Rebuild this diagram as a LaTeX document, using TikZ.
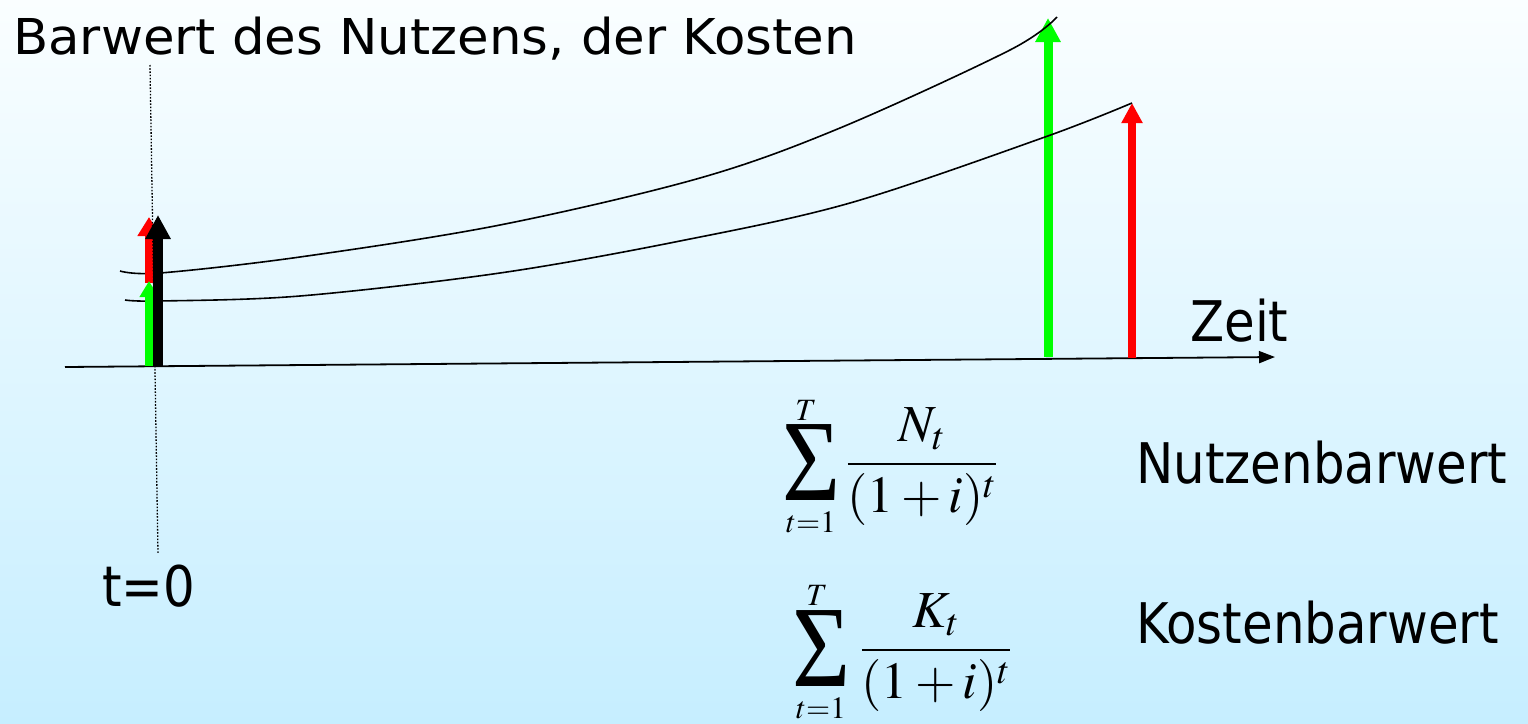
\documentclass[tikz,border=0pt]{standalone}
\usepackage{mathptmx}
\usepackage[no-math]{fontspec}
\setmainfont{DejaVu Sans}[FakeStretch=0.89]
\newfontfamily\titlefont{DejaVu Sans}[FakeStretch=1.04]
\newfontfamily\sigfont{Liberation Serif}[FakeStretch=0.86]
\usetikzlibrary{arrows.meta}
\definecolor{bgtop}{RGB}{250,254,255}
\definecolor{bgbot}{RGB}{198,238,255}
\definecolor{grn}{RGB}{0,255,0}
\definecolor{rd}{RGB}{255,0,0}
\begin{document}
\begin{tikzpicture}[x=1pt,y=-1pt,
  lbl/.style={inner sep=0pt, anchor=base west, font=\fontsize{56}{60}\selectfont},
  ttl/.style={inner sep=0pt, anchor=base west, font=\titlefont\fontsize{49.4}{54}\selectfont},
  curve/.style={line width=1.6pt},
  axisline/.style={line width=1.8pt, -{Triangle[length=16pt,width=12pt]}},
  guide/.style={line width=1.3pt, dash pattern=on 1.6pt off 1.6pt},
  sigma/.style={inner sep=0pt, anchor=base, font=\sigfont\fontsize{116}{116}\selectfont},
  lim/.style={inner sep=0pt, anchor=base, font=\fontsize{31}{31}\selectfont},
  frc/.style={inner sep=0pt, anchor=base, font=\fontsize{52}{52}\selectfont}]
\shade[top color=bgtop,bottom color=bgbot] (0,0) rectangle (1528,723);
\useasboundingbox (0,0) rectangle (1528,723);

% title and labels
\node[ttl] (title) at (13,54) {Barwert des Nutzens, der Kosten};
\node[lbl] (zeit) at (1190,341) {Zeit};
\node[lbl] (t0) at (102,606) {t=0};
\node[lbl] (nb) at (1136,483) {Nutzenbarwert};
\node[lbl] (kb) at (1136,643) {Kostenbarwert};

% formula 1
\node[sigma] (s1) at (811.5,500) {Σ};
\node[lim] (T1) at (806,420) {$T$};
\node[lim] (l1) at (811,532) {$t{=}1$};
\node[frc] (q1) at (922,477) {$\displaystyle\frac{N_t}{(1+i)^t}$};

% formula 2
\node[sigma] (s2) at (821.5,686) {Σ};
\node[lim] (T2) at (817,605) {$T$};
\node[lim] (l2) at (821,718) {$t{=}1$};
\node[frc] (q2) at (936,663) {$\displaystyle\frac{K_t}{(1+i)^t}$};

% axis
\coordinate (ax0) at (65,367);
\coordinate (ax1) at (1275,357);
\draw[axisline] (ax0) -- (ax1);

% tall arrows at the end
\coordinate (gTa) at (1048,357);
\coordinate (gTb) at (1048,18);
\coordinate (rTa) at (1132,358);
\coordinate (rTb) at (1132,103);
\draw[grn, line width=9pt, -{Triangle[length=24pt,width=24pt]}] (gTa) -- (gTb);
\draw[rd, line width=8pt, -{Triangle[length=20pt,width=20pt]}] (rTa) -- (rTb);

% curves
\draw[curve] plot[smooth,tension=0.55] coordinates {(120,271) (160,273) (300,257) (500,225) (700,178) (840,128) (1010,50) (1057,17)};
\draw[curve] plot[smooth,tension=0.55] coordinates {(125,300) (160,301) (300,296) (500,273) (680,241) (850,203) (1045,137) (1132,103)};

% arrows at t=0
\coordinate (r0a) at (149,283);
\coordinate (r0b) at (149,217);
\coordinate (g0a) at (149,366);
\coordinate (g0b) at (149,281);
\coordinate (k0a) at (158,366);
\coordinate (k0b) at (158,215);
\draw[rd, line width=8pt, -{Triangle[length=19pt,width=22pt]}] (r0a) -- (r0b);
\draw[grn, line width=8pt, -{Triangle[length=16pt,width=18pt]}] (g0a) -- (g0b);
\draw[black, line width=10pt, -{Triangle[length=24pt,width=24pt]}] (k0a) -- (k0b);

% dotted guide
\coordinate (d0) at (150,65);
\coordinate (d1) at (158,554);
\draw[guide] (d0) -- (d1);
\end{tikzpicture}
\end{document}
